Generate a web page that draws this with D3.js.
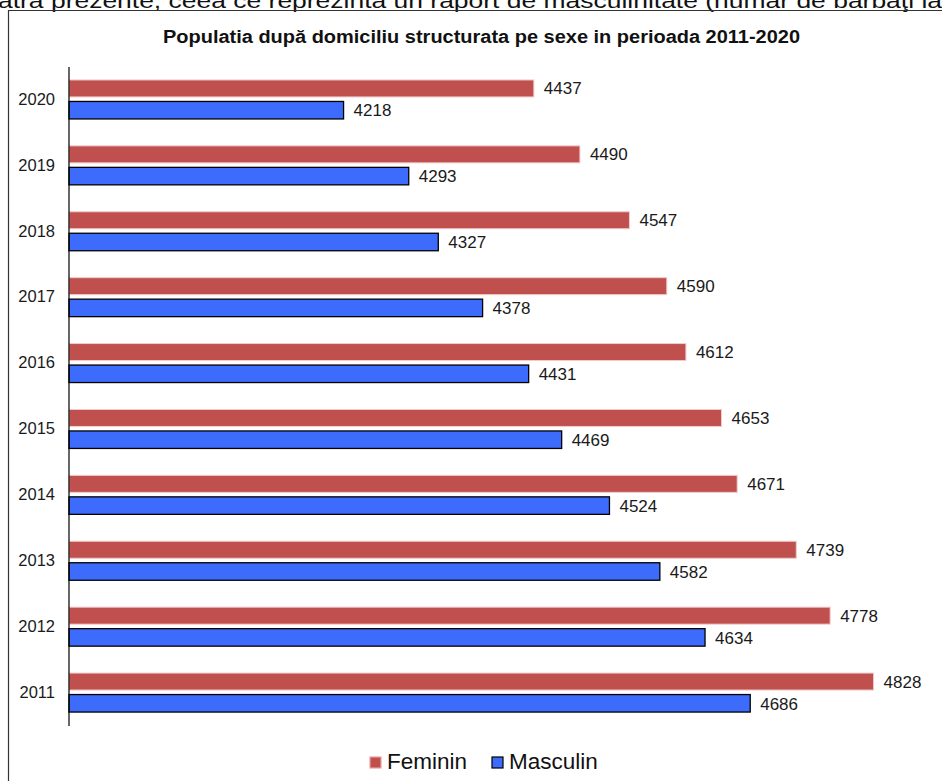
<!DOCTYPE html>
<html><head><meta charset="utf-8">
<script src="https://cdn.jsdelivr.net/npm/d3@7"></script>
<style>html,body{margin:0;padding:0;background:#fff;overflow:hidden}</style>
</head><body>
<script>
const years = ["2020","2019","2018","2017","2016","2015","2014","2013","2012","2011"];
const feminin = [4437,4490,4547,4590,4612,4653,4671,4739,4778,4828];
const masculin = [4218,4293,4327,4378,4431,4469,4524,4582,4634,4686];
const seriesNames = ["Feminin","Masculin"];
const colors = ["#c0504d","#3d6bfc"];
const titleText = "Populatia după domiciliu structurata pe sexe in perioada 2011-2020";
const topText = "atra prezente,  ceea ce reprezinta un raport de masculinitate (numar de barbaţi la";

const W = 942, H = 781;
const svg = d3.select("body").append("svg").attr("width", W).attr("height", H)
  .style("font-family", "Arial, 'Liberation Sans', sans-serif");

// page text cut at top
svg.append("text").attr("x", -2).attr("y", 7.5).attr("font-size", 21).attr("fill", "#111")
  .attr("textLength", 944).attr("lengthAdjust", "spacingAndGlyphs").text(topText);

// frame
svg.append("path").attr("d", `M8.5,${H+2}V10.5H${W+2}`).attr("fill", "none").attr("stroke", "#333").attr("stroke-width", 1.2);

svg.append("text").attr("x", 163).attr("y", 43)
  .attr("font-size", 18).attr("font-weight", "bold").attr("fill", "#111")
  .attr("textLength", 637).attr("lengthAdjust", "spacingAndGlyphs").text(titleText);

const x = d3.scaleLinear().domain([3902, 5000]).range([69, 69 + 1098 * 0.8689]);
const y = d3.scaleBand().domain(years).range([66.5, 725.5]).padding(0);

const data = years.map((yr, i) => ({year: yr, vals: [feminin[i], masculin[i]]}));

const g = svg.append("g");
data.forEach(d => {
  const c = y(d.year) + y.bandwidth() / 2;
  // feminin
  g.append("rect").attr("x", x(3902)).attr("y", c - 19.5).attr("height", 17)
    .attr("width", x(d.vals[0]) - x(3902)).attr("fill", colors[0])
    .attr("stroke", "#f2cccc").attr("stroke-width", 1);
  g.append("text").attr("x", x(d.vals[0]) + 10).attr("y", c - 11).attr("dy", "0.35em")
    .attr("font-size", 17).attr("fill", "#1a1a1a").text(d.vals[0]);
  // masculin
  g.append("rect").attr("x", x(3902)).attr("y", c + 2).attr("height", 17.5)
    .attr("width", x(d.vals[1]) - x(3902)).attr("fill", colors[1])
    .attr("stroke", "#000").attr("stroke-width", 1.3);
  g.append("text").attr("x", x(d.vals[1]) + 10).attr("y", c + 11).attr("dy", "0.35em")
    .attr("font-size", 17).attr("fill", "#1a1a1a").text(d.vals[1]);
});

// axis
const ax = svg.append("g").attr("transform", "translate(68.5,0)")
  .call(d3.axisLeft(y).tickSize(0).tickPadding(13.5));
ax.select(".domain").attr("stroke", "#000").attr("stroke-width", 1.2);
ax.selectAll("text").attr("font-size", 16.5).attr("fill", "#1a1a1a")
  .style("font-family", "Arial, 'Liberation Sans', sans-serif");

// legend
const leg = svg.append("g");
const lx = [370, 492];
seriesNames.forEach((n, i) => {
  leg.append("rect").attr("x", lx[i]).attr("y", 757).attr("width", 11).attr("height", 11)
    .attr("fill", colors[i]).attr("stroke", i ? "#000" : "#e8a0a0").attr("stroke-width", 1.2);
  leg.append("text").attr("x", lx[i] + 17).attr("y", 768.5).attr("font-size", 22.5)
    .attr("fill", "#111").text(n);
});
</script>
</body></html>
